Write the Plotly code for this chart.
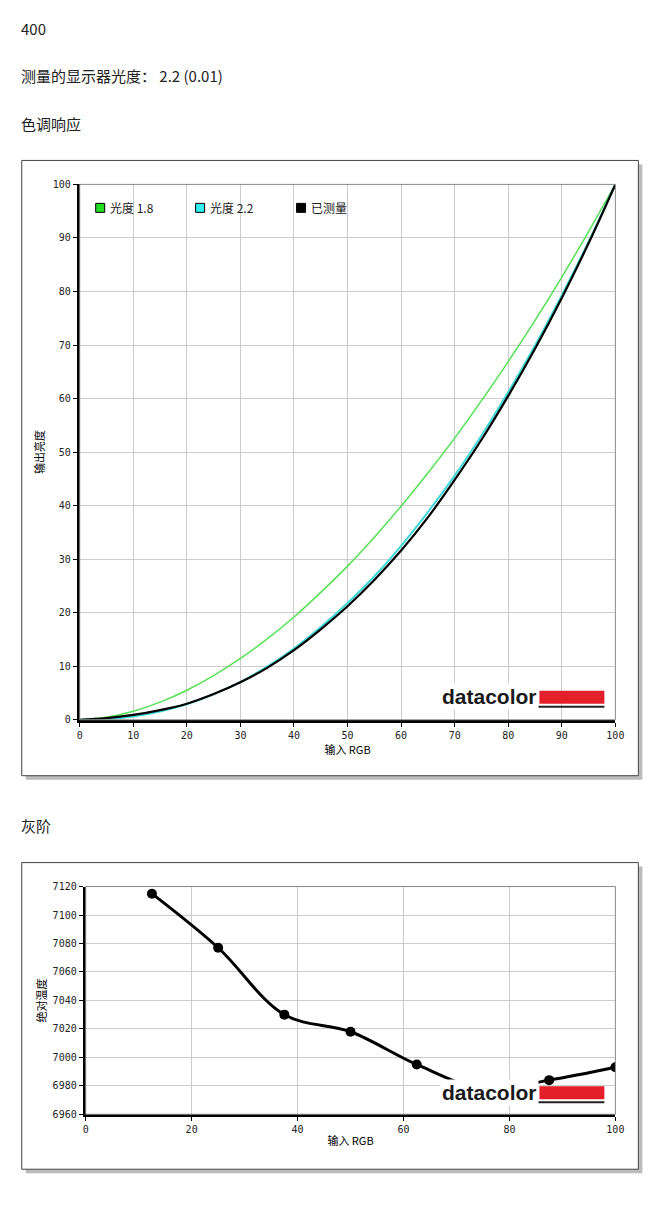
import plotly.graph_objects as go

W, H = 654, 1185
x_in = [0,5,10,15,20,25,30,35,40,45,50,55,60,65,70,75,80,85,90,95,100]
g18 = [0,0.46,1.58,3.29,5.52,8.25,11.45,15.1,19.2,23.8,28.7,34.1,39.9,46.1,52.6,59.6,66.9,74.6,82.7,91.2,100]
g22 = [0,0.14,0.63,1.54,2.90,4.74,7.07,9.93,13.3,17.3,21.8,26.8,32.5,38.8,45.6,53.1,61.2,69.9,79.3,89.3,100]
meas = [0,0.3,0.9,1.8,3.0,4.8,7.0,9.7,13.0,16.9,21.2,26.1,31.6,37.8,44.8,52.3,60.5,69.3,78.8,89.0,100]
gray_x = [12.5,25,37.5,50,62.5,75,87.5,100]
gray_k = [7115,7077,7030,7018,6995,6978,6984,6993]

def px(x): return (x - 11.25) / 642.4
def py(y): return 1 - (y - 13.4) / 1174.4

fig = go.Figure()
fig.add_trace(go.Scatter(x=x_in, y=g18, mode="lines", line=dict(color="#55e055", width=1.5, shape="spline"), xaxis="x", yaxis="y"))
fig.add_trace(go.Scatter(x=x_in, y=g22, mode="lines", line=dict(color="#40d8d8", width=2, shape="spline"), xaxis="x", yaxis="y"))
fig.add_trace(go.Scatter(x=x_in, y=meas, mode="lines", line=dict(color="black", width=2.2, shape="spline"), xaxis="x", yaxis="y"))
fig.add_trace(go.Scatter(x=gray_x, y=gray_k, mode="lines+markers", line=dict(color="black", width=3, shape="spline"),
                         marker=dict(size=10, color="black"), xaxis="x2", yaxis="y2"))

ax_common = dict(showgrid=True, gridcolor="#cccccc", gridwidth=1, showline=True, linecolor="black",
                 ticks="outside", ticklen=4, tickcolor="black", zeroline=False,
                 tickfont=dict(family="DejaVu Sans Mono", size=10, color="#222"), mirror=False)
fig.update_layout(
    width=W, height=H, margin=dict(l=0, r=0, t=0, b=0), showlegend=False,
    paper_bgcolor="white", plot_bgcolor="white",
    font=dict(family="Noto Sans CJK SC", color="black"),
    xaxis=dict(domain=[px(80), px(616)], range=[0, 100], dtick=10, anchor="y", linewidth=3,
               title=dict(text="输入 RGB", font=dict(size=11), standoff=4), **ax_common),
    yaxis=dict(domain=[py(720), py(184)], range=[0, 100], dtick=10, anchor="x", linewidth=3,
               title=dict(text="输出亮度", font=dict(size=11), standoff=6), **ax_common),
    xaxis2=dict(domain=[px(86), px(616)], range=[0, 100], dtick=20, anchor="y2", linewidth=3,
                title=dict(text="输入 RGB", font=dict(size=11), standoff=4), **ax_common),
    yaxis2=dict(domain=[py(1115), py(887)], range=[6960, 7120], dtick=20, anchor="x2", linewidth=3,
                title=dict(text="绝对温度", font=dict(size=11), standoff=4), **ax_common),
)

shapes = []
for (x0, y0, x1, y1) in [(22, 160, 639, 776), (22, 863, 639, 1170)]:
    shapes.append(dict(type="rect", xref="paper", yref="paper", x0=px(x0+4), x1=px(x1+4), y0=py(y1+4), y1=py(y0+4),
                       fillcolor="#bbbbbb", line=dict(width=0), layer="below"))
    shapes.append(dict(type="rect", xref="paper", yref="paper", x0=px(x0), x1=px(x1), y0=py(y1), y1=py(y0),
                       fillcolor="white", line=dict(color="#444", width=1), layer="below"))
for (x0, y0, x1, y1) in [(80, 184, 616, 720), (86, 887, 616, 1115)]:
    shapes.append(dict(type="rect", xref="paper", yref="paper", x0=px(x0), x1=px(x1), y0=py(y1), y1=py(y0),
                       line=dict(color="#888", width=1)))
for xx, col in [(96, "#22dd22"), (196, "#33eeee"), (297, "black")]:
    shapes.append(dict(type="rect", xref="paper", yref="paper", x0=px(xx), x1=px(xx+9), y0=py(212), y1=py(203),
                       fillcolor=col, line=dict(color="black", width=1)))
annotations = []
for xx, t in [(108, "光度 1.8"), (208, "光度 2.2"), (309, "已测量")]:
    annotations.append(dict(xref="paper", yref="paper", x=px(xx), y=py(207.5), text=t, showarrow=False,
                            xanchor="left", yanchor="middle", font=dict(size=12, color="#222")))
for (lx, ly) in [(441, 697), (441, 1093)]:
    annotations.append(dict(xref="paper", yref="paper", x=px(lx), y=py(ly), text="<b>datacolor</b>", showarrow=False,
                            xanchor="left", yanchor="middle", bgcolor="white", borderpad=1,
                            font=dict(family="Liberation Sans", size=21, color="#1a1a1a")))
    shapes.append(dict(type="rect", xref="paper", yref="paper", x0=px(540), x1=px(605), y0=py(ly+7), y1=py(ly-6),
                       fillcolor="#e3202a", line=dict(width=0)))
    shapes.append(dict(type="line", xref="paper", yref="paper", x0=px(443), x1=px(605), y0=py(ly+10), y1=py(ly+10),
                       line=dict(color="#222", width=2)))
for yy, t in [(28, "400"), (75, "测量的显示器光度： 2.2 (0.01)"), (123, "色调响应"), (826, "灰阶")]:
    annotations.append(dict(xref="paper", yref="paper", x=px(19), y=py(yy), text=t, showarrow=False,
                            xanchor="left", yanchor="middle", font=dict(size=15, color="#222")))
fig.update_layout(shapes=shapes, annotations=annotations)
fig.write_html("out.html")
